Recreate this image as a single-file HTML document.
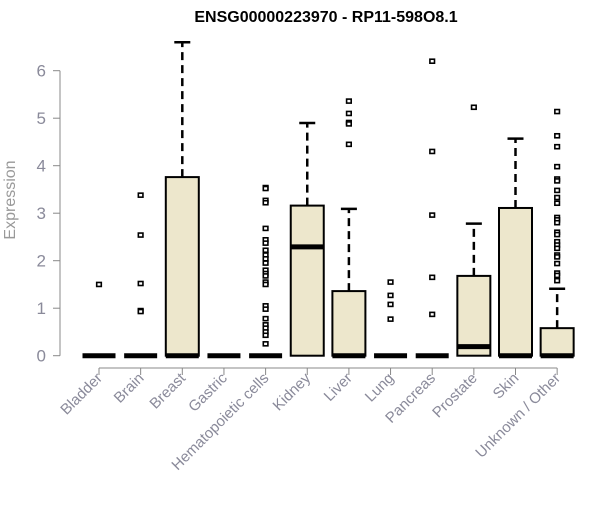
<!DOCTYPE html>
<html><head><meta charset="utf-8"><style>
body{margin:0;background:#fff}
svg{font-family:"Liberation Sans",Arial,sans-serif}
</style></head><body>
<svg id="c" width="600" height="500">
<text x="326" y="22" text-anchor="middle" font-size="16" font-weight="bold">ENSG00000223970 - RP11-598O8.1</text>
<text transform="translate(15,200) rotate(-90)" text-anchor="middle" font-size="16" fill="#999">Expression</text>
</svg>
<script>
const categories=["Bladder","Brain","Breast","Gastric","Hematopoietic cells","Kidney","Liver","Lung","Pancreas","Prostate","Skin","Unknown / Other"];
const q1=[0,0,0,0,0,0,0,0,0,0,0,0];
const medians=[0,0,0,0,0,2.29,0,0,0,0.19,0,0];
const q3=[0,0,3.76,0,0,3.16,1.36,0,0,1.68,3.11,0.58];
const whiskerHigh=[0,0,6.6,0,0,4.9,3.09,0,0,2.78,4.57,1.41];
const outliers=[[1.5],[3.38,2.54,1.52,0.95,0.93],[],[],
[3.54,3.52,3.27,3.22,2.68,2.44,2.37,2.22,2.12,2.04,1.95,1.8,1.73,1.68,1.55,1.5,1.05,0.98,0.78,0.65,0.58,0.5,0.43,0.25],
[],[5.36,5.1,4.91,4.88,4.45],[1.55,1.27,1.08,0.77],[6.2,4.3,2.96,1.65,0.87],[5.23],[],
[5.14,4.63,4.4,3.98,3.72,3.68,3.48,3.33,3.21,2.91,2.86,2.8,2.6,2.55,2.4,2.33,2.26,2.12,2.08,1.94,1.74,1.69,1.58]];
const yTicks=[0,1,2,3,4,5,6];
const svg=document.getElementById('c');const NS='http://www.w3.org/2000/svg';
const y=v=>355.7-v*47.5;const x=i=>99+i*41.65;const bw=33;
function mk(t,a,name){const e=document.createElementNS(NS,t);for(const k in a)e.setAttribute(k,a[k]);


svg.appendChild(e);return e;}
mk('line',{x1:60,x2:60,y1:y(0),y2:y(6),stroke:'#888'},'y-axis-line');
yTicks.forEach(t=>{mk('line',{x1:53,x2:60,y1:y(t),y2:y(t),stroke:'#888'},'y-tick');
const tx=mk('text',{x:46,y:y(t)+6,'text-anchor':'end','font-size':17,fill:'#8a8a9a'},'y-tick-label');tx.textContent=t;});
mk('line',{x1:x(0),x2:x(11),y1:368,y2:368,stroke:'#888'},'x-axis-line');
categories.forEach((c,i)=>{const cx=x(i);
mk('line',{x1:cx,x2:cx,y1:368,y2:375,stroke:'#888'},'x-tick');
const tx=mk('text',{transform:`translate(${cx+4},${379}) rotate(-45)`,'text-anchor':'end','font-size':15,fill:'#8a8a9a'},'x-tick-label');tx.textContent=c;
if(whiskerHigh[i]>q3[i]){
mk('line',{x1:cx,x2:cx,y1:y(q3[i]),y2:y(whiskerHigh[i]),stroke:'#000','stroke-width':2.5,'stroke-dasharray':'8,5'},'whisker');
mk('line',{x1:cx-8,x2:cx+8,y1:y(whiskerHigh[i]),y2:y(whiskerHigh[i]),stroke:'#000','stroke-width':2.5},'whisker-cap');}
if(q3[i]>q1[i])mk('rect',{x:cx-bw/2,y:y(q3[i]),width:bw,height:y(q1[i])-y(q3[i]),fill:'#ede7cc',stroke:'#000','stroke-width':2},'box-'+c.toLowerCase().replace(/[^a-z]+/g,'-'));
mk('line',{x1:cx-bw/2,x2:cx+bw/2,y1:y(medians[i]),y2:y(medians[i]),stroke:'#000','stroke-width':5},'median-line');
outliers[i].forEach(v=>mk('rect',{x:cx-2.3,y:y(v)-2,width:4.6,height:4,fill:'#fff',stroke:'#000','stroke-width':1.6},'outlier-point'));
});
</script>
</body></html>
